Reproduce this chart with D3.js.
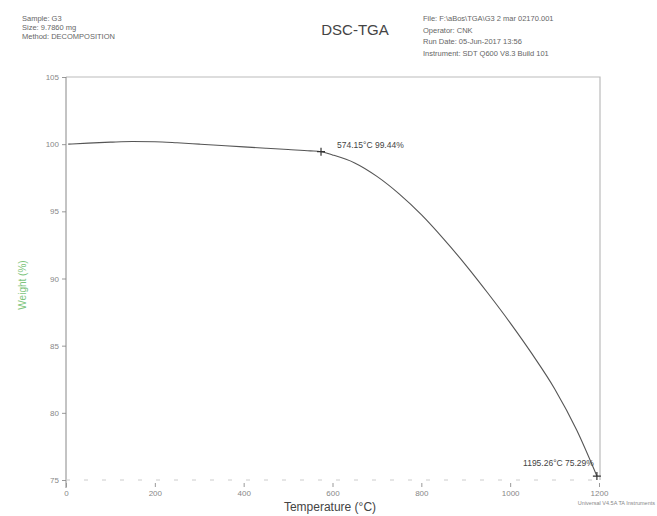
<!DOCTYPE html>
<html>
  <head>
    <meta charset="utf-8">
    <title>DSC-TGA</title>
    <script src="https://d3js.org/d3.v7.min.js"></script>
    <style>
      body { margin: 0; background: #fff; }
      text { font-family: "Liberation Sans", Arial, sans-serif; }
    </style>
  </head>
  <body>
    <div id="chart"></div>

    <script type="text/javascript">
      // curve
      var temps   = [5, 50, 100, 150, 200, 250, 300, 350, 400, 450, 500, 550, 574.15,
                     600, 650, 700, 750, 800, 850, 900, 950, 1000, 1050, 1100, 1150, 1195.26];
      var weights = [100.0, 100.08, 100.15, 100.2, 100.18, 100.1, 100.0, 99.9, 99.8, 99.7, 99.6, 99.5, 99.44,
                     99.2, 98.6, 97.6, 96.3, 94.75, 92.95, 91.0, 88.9, 86.7, 84.35, 81.8, 78.7, 75.29];

      var xTicks = [0, 200, 400, 600, 800, 1000, 1200];
      var yTicks = [75, 80, 85, 90, 95, 100, 105];

      var marks = [
        {t: 574.15, w: 99.44, label: "574.15°C 99.44%"},
        {t: 1195.26, w: 75.29, label: "1195.26°C 75.29%"}
      ];

      var leftHeader = ["Sample: G3", "Size: 9.7860 mg", "Method: DECOMPOSITION"];
      var rightHeader = ["File: F:\\aBos\\TGA\\G3 2 mar 02170.001", "Operator: CNK",
                         "Run Date: 05-Jun-2017 13:56", "Instrument: SDT Q600 V8.3 Build 101"];

      var width = 657,
          height = 516;

      var svg = d3.select('#chart').append('svg')
          .attr('width', width)
          .attr('height', height);

      var x = d3.scaleLinear().domain([0, 1200]).range([66, 599]);
      var y = d3.scaleLinear().domain([75, 105]).range([480, 77]);

      // header text
      svg.append('g').selectAll('text')
          .data(leftHeader).enter().append('text')
          .attr('x', 22)
          .attr('y', function(d, i) { return 21 + i * 9; })
          .attr('font-size', 7.5)
          .attr('fill', '#666')
          .text(function(d) { return d; });

      svg.append('text')
          .attr('x', 355).attr('y', 35)
          .attr('text-anchor', 'middle')
          .attr('font-size', 15)
          .attr('fill', '#444')
          .text('DSC-TGA');

      svg.append('g').selectAll('text')
          .data(rightHeader).enter().append('text')
          .attr('x', 423)
          .attr('y', function(d, i) { return 21 + i * 11.5; })
          .attr('font-size', 7.5)
          .attr('fill', '#666')
          .text(function(d) { return d; });

      // frame top + right
      svg.append('path')
          .attr('d', 'M' + x(0) + ',' + y(105) + 'H' + (x(1200) + 1) + 'V' + y(75))
          .attr('fill', 'none')
          .attr('stroke', '#bbb')
          .attr('stroke-width', 1.2);

      // y axis
      var yAxis = svg.append('g')
          .attr('transform', 'translate(' + x(0) + ',0)')
          .call(d3.axisLeft(y).tickValues(yTicks).tickSize(4).tickSizeOuter(0).tickFormat(d3.format('d')));
      yAxis.select('.domain').remove();
      yAxis.append('line')
          .attr('x1', 0).attr('x2', 0)
          .attr('y1', y(105)).attr('y2', y(75) + 8)
          .attr('stroke', '#888');
      yAxis.selectAll('.tick line').attr('stroke', '#999');
      yAxis.selectAll('.tick text')
          .attr('font-size', 8).attr('fill', '#888').attr('font-family', 'Liberation Sans, Arial');

      // x axis
      var xAxis = svg.append('g')
          .attr('transform', 'translate(0,' + (y(75) + 3) + ')')
          .call(d3.axisBottom(x).tickValues(xTicks).tickSize(4).tickSizeOuter(0).tickFormat(d3.format('d')));
      xAxis.select('.domain').remove();
      xAxis.selectAll('.tick line').attr('stroke', '#999');
      xAxis.selectAll('.tick text')
          .attr('font-size', 8).attr('fill', '#888').attr('font-family', 'Liberation Sans, Arial');

      // faint dashed baseline
      svg.append('line')
          .attr('x1', x(0)).attr('x2', x(1200))
          .attr('y1', y(75)).attr('y2', y(75))
          .attr('stroke', '#ccc')
          .attr('stroke-dasharray', '4,14');

      // axis titles
      svg.append('text')
          .attr('x', 330).attr('y', 511)
          .attr('text-anchor', 'middle')
          .attr('font-size', 12)
          .attr('fill', '#444')
          .text('Temperature (°C)');

      svg.append('text')
          .attr('transform', 'translate(26,' + 285 + ') rotate(-90)')
          .attr('text-anchor', 'middle')
          .attr('font-size', 10)
          .attr('fill', '#7cc47c')
          .text('Weight (%)');

      svg.append('text')
          .attr('x', 655).attr('y', 505)
          .attr('text-anchor', 'end')
          .attr('font-size', 5.5)
          .attr('fill', '#888')
          .text('Universal V4.5A TA Instruments');

      // weight curve
      var line = d3.line()
          .x(function(d) { return x(d[0]); })
          .y(function(d) { return y(d[1]); })
          .curve(d3.curveMonotoneX);

      svg.append('path')
          .datum(d3.zip(temps, weights))
          .attr('d', line)
          .attr('fill', 'none')
          .attr('stroke', '#555')
          .attr('stroke-width', 1.1);

      // markers + labels
      var m = svg.append('g').selectAll('g')
          .data(marks).enter().append('g')
          .attr('transform', function(d) { return 'translate(' + x(d.t) + ',' + y(d.w) + ')'; });

      m.append('path')
          .attr('d', 'M-4,0H4M0,-4V4')
          .attr('stroke', '#333')
          .attr('stroke-width', 1.2);

      svg.append('text')
          .attr('x', x(marks[0].t) + 16).attr('y', y(marks[0].w) - 4)
          .attr('font-size', 8.5).attr('fill', '#444')
          .text(marks[0].label);

      svg.append('text')
          .attr('x', x(marks[1].t) - 3).attr('y', y(marks[1].w) - 10)
          .attr('text-anchor', 'end')
          .attr('font-size', 8.5).attr('fill', '#444')
          .text(marks[1].label);
    </script>
  </body>
</html>
